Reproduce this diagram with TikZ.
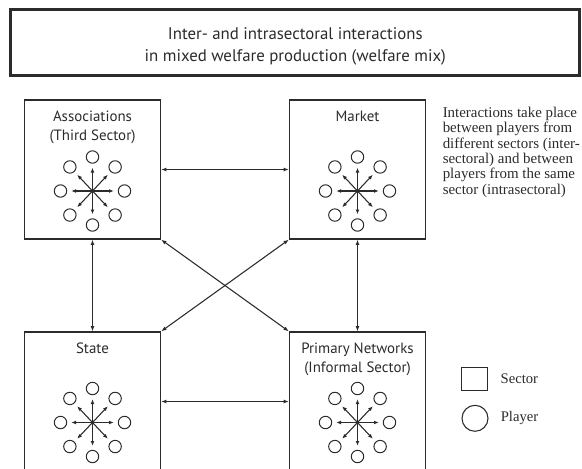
\documentclass[tikz,border=0pt]{standalone}
\usepackage{fontspec}
\setmainfont{PT Sans}
\newfontfamily\notefont{Liberation Serif}
\usetikzlibrary{arrows.meta,positioning}

\definecolor{ink}{HTML}{2B2B2B}

\tikzset{
  sector/.style={draw=ink,line width=0.9pt,minimum width=102pt,minimum height=104.25pt,inner sep=0pt},
  sectorname/.style={anchor=north,align=center,inner sep=0pt,text=ink,font=\fontsize{11.2}{14}\selectfont},
  player/.style={draw=ink,circle,line width=0.75pt,minimum size=9.3pt,inner sep=0pt},
  link/.style={-{Latex[length=3.6pt,width=2.9pt]},draw=ink,line width=0.8pt,shorten >=3pt},
  flow/.style={{Latex[length=4pt,width=3pt]}-{Latex[length=4pt,width=3pt]},draw=ink,line width=0.8pt},
  notetext/.style={align=left,inner sep=0pt,text=ink,font=\notefont\fontsize{11.2}{11.6}\selectfont},
  cluster/.pic={
    \coordinate (-hub) at (0,0);
    \foreach \a in {0,45,...,315}{
      \node[player] (-p\a) at (\a:32 and 34) {};
      \draw[link] (-hub) -- (-p\a);
    }
  }
}

\begin{document}
\begin{tikzpicture}[x=0.75pt,y=-0.75pt]
  \useasboundingbox (0,0) rectangle (582,468);
  \clip (0,0) rectangle (582,468);

  % Titel
  \node[draw=ink,line width=2pt,minimum width=426.75pt,minimum height=49.5pt] (title) at (295.3,42.2) {};
  \node[align=center,text=ink,font=\fontsize{12.6}{16.5}\selectfont] (titletxt) at ([yshift=-3.3pt]title.center)
    {Inter- and intrasectoral interactions\\in mixed welfare production (welfare mix)};

  % Sektoren
  \node[sector] (assoc) at (92.5,169.5) {};
  \node[sector] (market) at (357.5,169.5) {};
  \node[sector] (state) at (92.5,401.5) {};
  \node[sector] (primary) at (357.5,401.5) {};

  \node[sectorname] (assoctxt) at ([yshift=-8.5pt]assoc.north) {Associations\\(Third Sector)};
  \node[sectorname] (markettxt) at ([yshift=-8.5pt]market.north) {Market};
  \node[sectorname] (statetxt) at ([yshift=-8.5pt]state.north) {State};
  \node[sectorname] (primarytxt) at ([yshift=-8.5pt]primary.north) {Primary Networks\\(Informal Sector)};

  % Akteure
  \pic (assocset) at (92.5,191) {cluster};
  \pic (marketset) at (357.5,191) {cluster};
  \pic (stateset) at (92.5,422.5) {cluster};
  \pic (primaryset) at (357.5,422.5) {cluster};

  % Wechselwirkungen
  \draw[flow] (assoc.east) -- (market.west);
  \draw[flow] (state.east) -- (primary.west);
  \draw[flow] (assoc.south) -- (state.north);
  \draw[flow] (market.south) -- (primary.north);
  \draw[flow] (assoc.south east) -- (primary.north west);
  \draw[flow] (market.south west) -- (state.north east);

  % Erlaeuterung
  \node[notetext,anchor=north west] (note) at (442.5,106.5)
    {Interactions take place\\between players from\\different sectors (inter-\\sectoral) and between\\players from the same\\sector (intrasectoral)};

  % Legende
  \node[draw=ink,line width=0.8pt,minimum width=19pt,minimum height=17pt,inner sep=0pt] (keysector) at (474.5,378.7) {};
  \node[draw=ink,circle,line width=0.8pt,minimum size=19.5pt,inner sep=0pt] (keyplayer) at (475,418.3) {};
  \node[notetext,font=\notefont\fontsize{11}{12}\selectfont,right=9.5pt of keysector] (keysectortxt) {Sector};
  \node[notetext,font=\notefont\fontsize{11}{12}\selectfont,right=9pt of keyplayer] (keyplayertxt) {Player};
\end{tikzpicture}
\end{document}
